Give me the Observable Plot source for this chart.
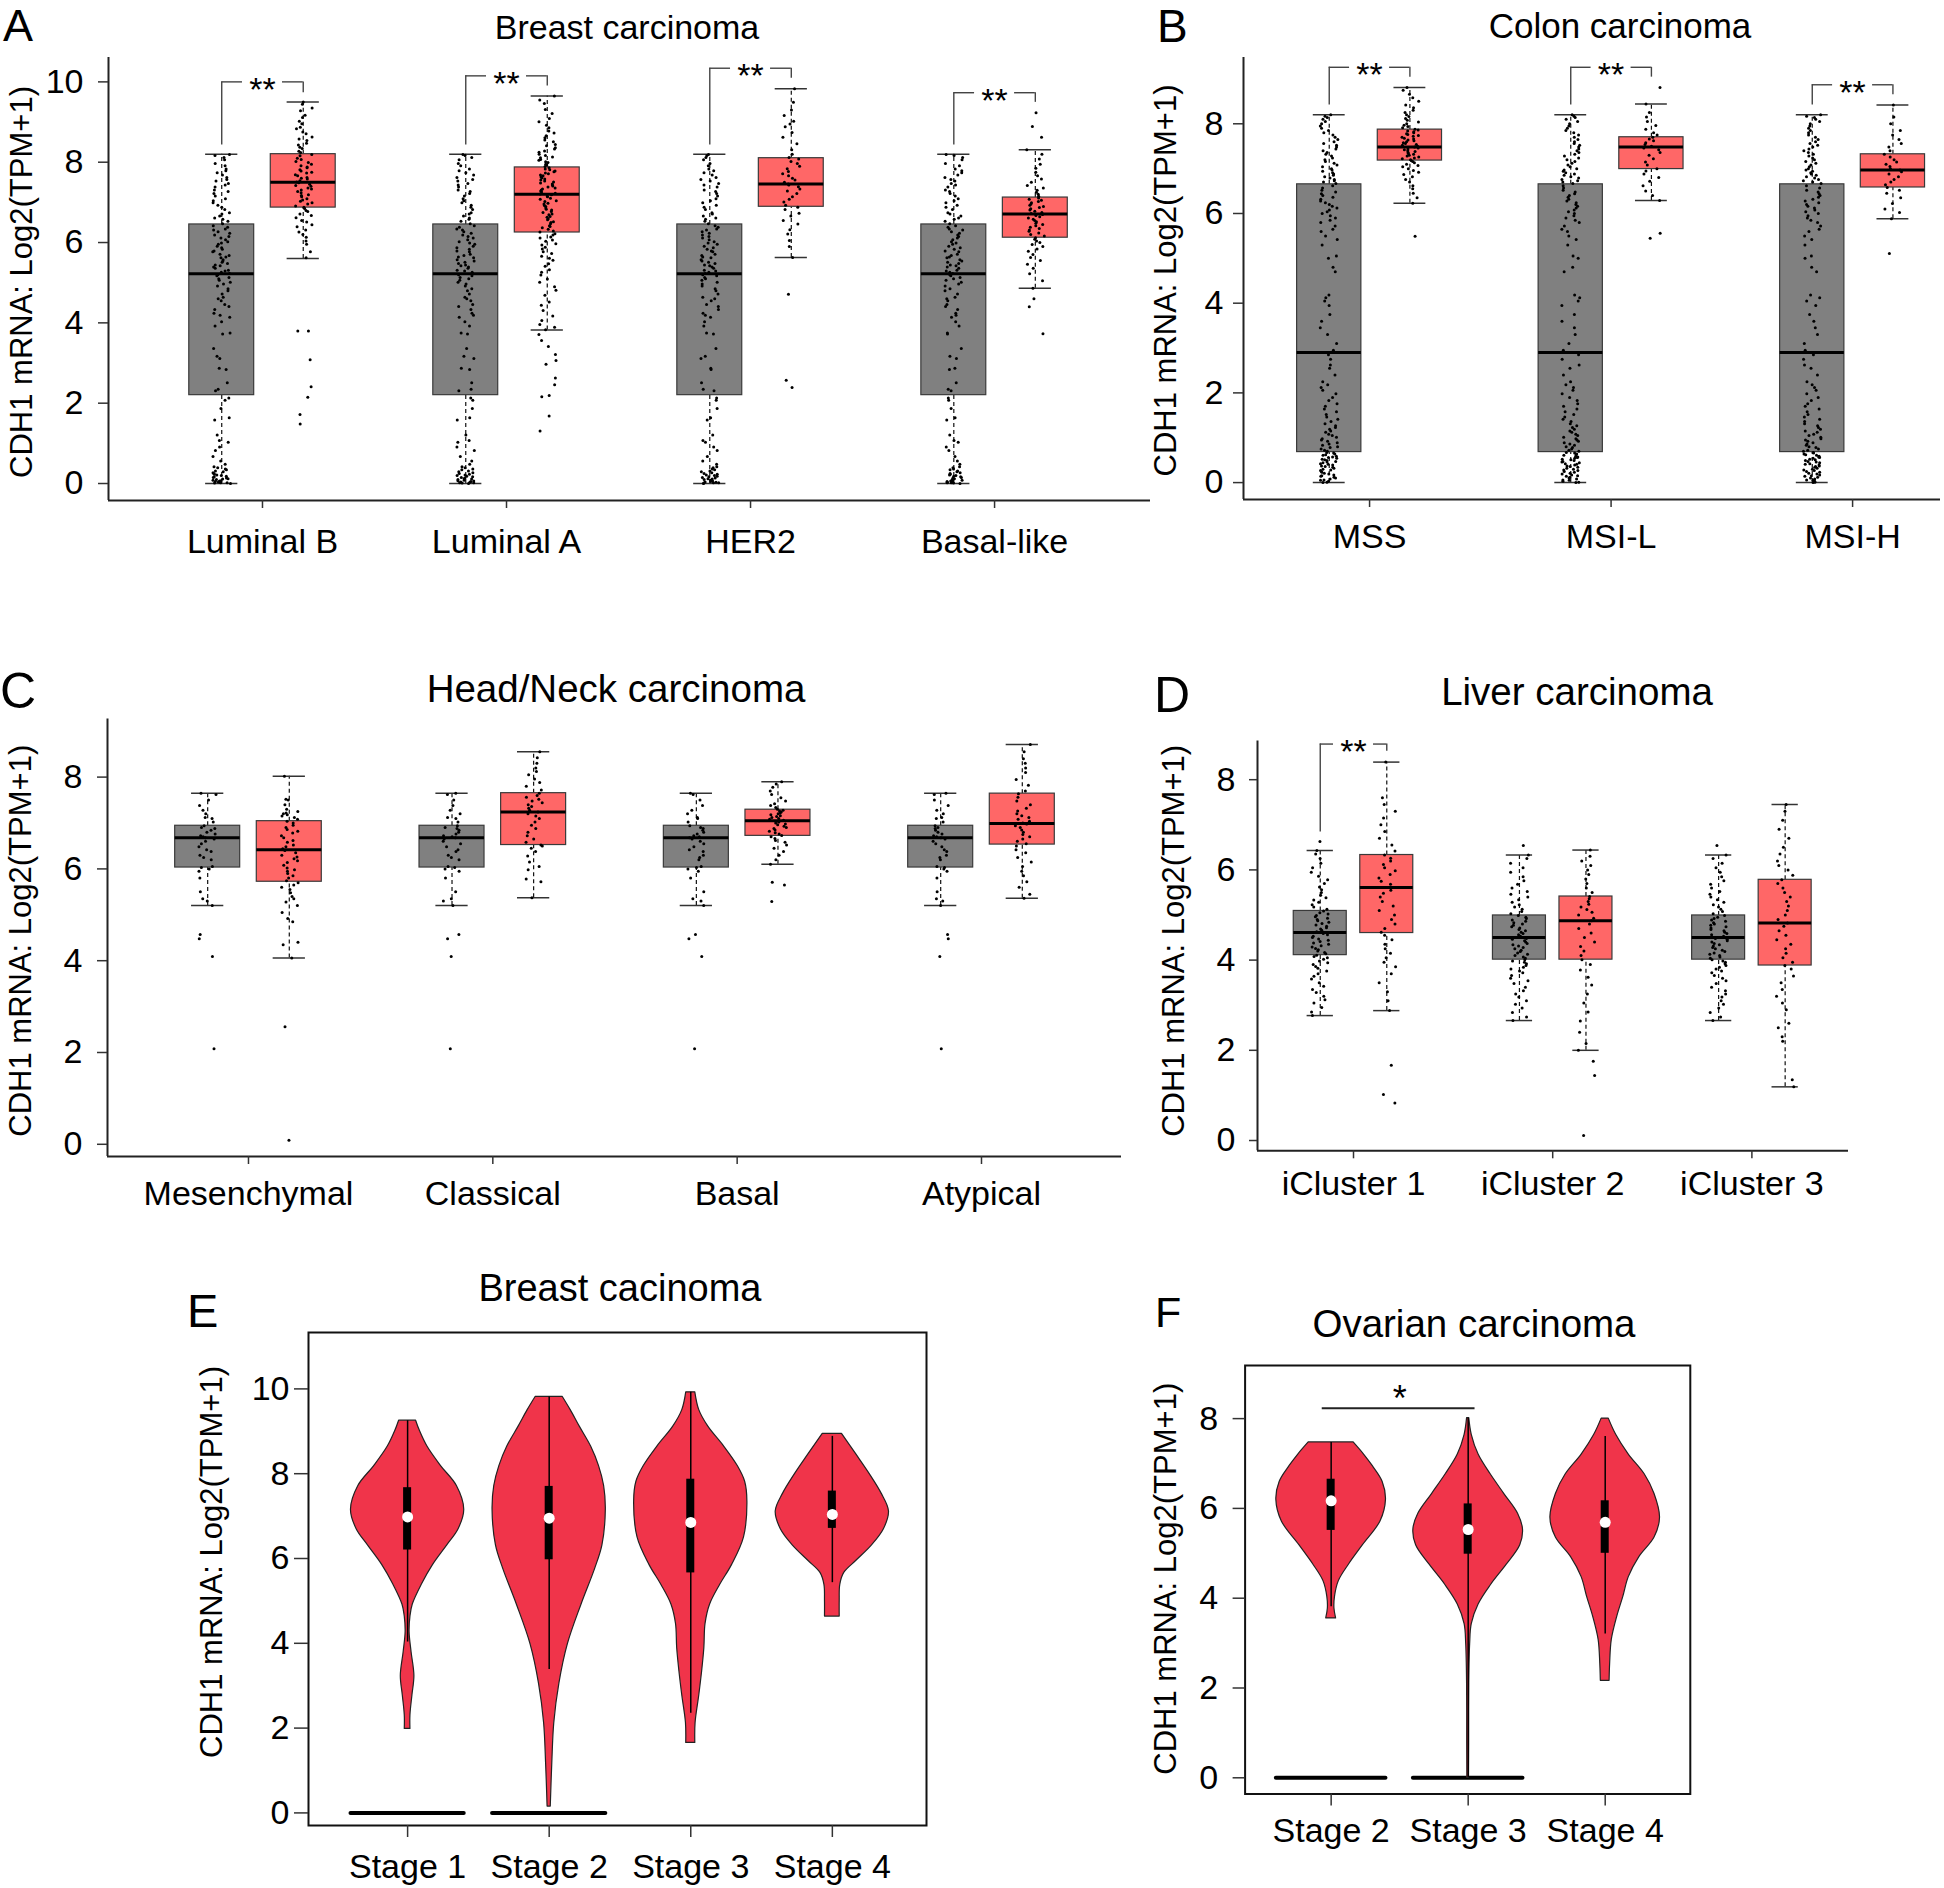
<!DOCTYPE html>
<html>
<head>
<meta charset="utf-8">
<script src="https://cdn.jsdelivr.net/npm/d3@7"></script>
<script src="https://cdn.jsdelivr.net/npm/@observablehq/plot@0.6"></script>
<style>
html,body{margin:0;padding:0;background:#fff;}
#fig{position:relative;width:1944px;height:1888px;overflow:hidden;background:#fff;}
.panel{position:absolute;}
.panel svg{max-width:none;}
#overlay{position:absolute;left:0;top:0;pointer-events:none;}
</style>
</head>
<body>
<div id="fig"></div>
<script>
const P = s => s.trim().split(/\s+/).map(Number);
const YLABEL = "CDH1 mRNA: Log2(TPM+1)";

// ================= DATA =================
// ---- Panel A: Breast carcinoma by PAM50 subtype ----
const catsA = ["Luminal B", "Luminal A", "HER2", "Basal-like"];
const normalStatsA = {q1: 2.2, med: 5.22, q3: 6.45, lo: 0, hi: 8.2};
const tumorStatsA = [
  {q1: 6.87, med: 7.5, q3: 8.2, lo: 5.6, hi: 9.5},
  {q1: 6.25, med: 7.2, q3: 7.87, lo: 3.82, hi: 9.65},
  {q1: 6.89, med: 7.46, q3: 8.1, lo: 5.63, hi: 9.83},
  {q1: 6.12, med: 6.71, q3: 7.12, lo: 4.86, hi: 8.31}
];
const bracketsA = [
  {g: 1, top: 10.0, l: 8.43, r: 9.73, label: "**"},
  {g: 2, top: 10.15, l: 8.43, r: 9.9, label: "**"},
  {g: 3, top: 10.34, l: 8.43, r: 10.09, label: "**"},
  {g: 4, top: 9.73, l: 8.43, r: 9.49, label: "**"}
];
const ptsNormalA = P(`0 0.01 0.02 0.02 0.03 0.04 0.05 0.06 0.07 0.08 0.1 0.11 0.12 0.14 0.15 0.17 0.18 0.2 0.21 0.23 0.25 0.27 0.29 0.31 0.34 0.36 0.39 0.42 0.48 0.56 0.67 0.82 0.91 1.03 1.07 1.21 1.58 1.64 1.87 2.07 2.13
2.31 2.35 2.51 2.84 2.87 3.11 3.17 3.36 3.72 3.75 3.92 4.03 4.14 4.19 4.24 4.33 4.41 4.46 4.55 4.6 4.64 4.72 4.8 4.85 4.92 4.97 5.01 5.06 5.1 5.13 5.17 5.2
5.23 5.26 5.29 5.31 5.36 5.39 5.42 5.44 5.48 5.51 5.54 5.57 5.62 5.64 5.68 5.71 5.77 5.79 5.83 5.87 5.91 5.96 5.99 6.02 6.07 6.11 6.15 6.19 6.23 6.27 6.31 6.34 6.38 6.42
6.47 6.53 6.58 6.61 6.66 6.71 6.74 6.82 6.88 6.93 6.99 7.04 7.09 7.16 7.22 7.27 7.31 7.38 7.43 7.47 7.53 7.57 7.62 7.68 7.74 7.79 7.83 7.91 7.97 8.06 8.12 8.17 8.19`);
const ptsTumorA = [
  P(`1.48 1.72 2.15 2.41 3.08 3.8 3.8 5.62 5.77 5.96 6.04 6.13 6.2 6.26 6.31 6.39 6.44 6.51 6.55 6.62 6.67 6.71 6.77 6.8 6.85
  6.88 6.91 6.96 6.99 7.03 7.06 7.09 7.14 7.17 7.19 7.24 7.27 7.31 7.33 7.36 7.4 7.42 7.45 7.49 7.51 7.54 7.58 7.6 7.62 7.66 7.69 7.73 7.75 7.78 7.81 7.86 7.88 7.91 7.95 7.99 8.02 8.07 8.1 8.16 8.19
  8.24 8.27 8.34 8.37 8.43 8.47 8.54 8.58 8.63 8.71 8.75 8.83 8.87 8.96 9.02 9.11 9.17 9.28 9.35 9.44 9.5`),
  P(`1.31 1.68 2.16 2.19 2.46 2.63 2.97 3.06 3.21 3.41 3.56 3.71 3.83 3.89 3.96 4.06 4.17 4.31 4.44 4.52 4.69 4.81 4.9 5.01 5.09 5.19 5.26 5.32 5.41 5.47 5.56 5.61 5.66 5.73 5.77 5.84 5.88 5.94 5.97 6.03 6.06 6.11 6.14 6.19 6.22
  6.26 6.29 6.33 6.37 6.4 6.42 6.47 6.5 6.52 6.57 6.59 6.63 6.65 6.69 6.71 6.75 6.77 6.81 6.83 6.86 6.9 6.92 6.96 6.98 7.02 7.04 7.08 7.1 7.14 7.16 7.19
  7.21 7.23 7.26 7.28 7.31 7.33 7.36 7.38 7.41 7.43 7.46 7.48 7.51 7.53 7.56 7.58 7.61 7.63 7.66 7.68 7.71 7.73 7.76 7.78 7.81 7.83 7.86
  7.89 7.93 7.95 7.99 8.01 8.05 8.07 8.11 8.13 8.17 8.2 8.25 8.28 8.33 8.36 8.41 8.44 8.51 8.55 8.61 8.66 8.73 8.78 8.86 8.92 9.01 9.09 9.21 9.31 9.46 9.55 9.65`),
  P(`2.39 2.57 4.71 5.63 5.9 6.05 6.21 6.32 6.46 6.55 6.66 6.73 6.82 6.88 6.93 7.01 7.08 7.14 7.22 7.28 7.33 7.39 7.43 7.46 7.5 7.56 7.6 7.66 7.71 7.77 7.84 7.9 7.97 8.02 8.08 8.12 8.2 8.31 8.46 8.62 8.74 8.88 8.95 9.02 9.16 9.3 9.49 9.83`),
  P(`3.73 4.4 4.6 4.86 5.05 5.22 5.36 5.46 5.55 5.63 5.7 5.78 5.84 5.9 5.95 6.0 6.04 6.08 6.12 6.16 6.2 6.24 6.28 6.31 6.35 6.38 6.42 6.45 6.48 6.52 6.55 6.58 6.61 6.64 6.67 6.7 6.72 6.75 6.78 6.81 6.84 6.87 6.9 6.93 6.96 6.99 7.02 7.05 7.08 7.11 7.15 7.2 7.25 7.3 7.36 7.42 7.5 7.58 7.66 7.75 7.85 7.95 8.08 8.2 8.31 8.62 8.89 9.23`)
];

// ---- Panel B: Colon carcinoma by MSI status ----
const catsB = ["MSS", "MSI-L", "MSI-H"];
const normalStatsB = {q1: 0.68, med: 2.9, q3: 6.65, lo: 0, hi: 8.2};
const tumorStatsB = [
  {q1: 7.18, med: 7.48, q3: 7.87, lo: 6.23, hi: 8.81},
  {q1: 6.99, med: 7.48, q3: 7.7, lo: 6.29, hi: 8.44},
  {q1: 6.58, med: 6.97, q3: 7.32, lo: 5.88, hi: 8.42}
];
const bracketsB = [
  {g: 1, top: 9.26, l: 8.42, r: 9.04, label: "**"},
  {g: 2, top: 9.26, l: 8.42, r: 9.04, label: "**"},
  {g: 3, top: 8.87, l: 8.42, r: 8.65, label: "**"}
];
const ptsNormalB = P(`0 0.01 0.03 0.05 0.06 0.08 0.1 0.12 0.14 0.15 0.17 0.19 0.21 0.23 0.25 0.27 0.28 0.3 0.32 0.34 0.36 0.37 0.39 0.41 0.42 0.44 0.46 0.47 0.49 0.51 0.52 0.54 0.56 0.57 0.59 0.61 0.62 0.64 0.66 0.67
0.7 0.72 0.75 0.78 0.8 0.83 0.86 0.89 0.92 0.95 0.98 1.01 1.05 1.08 1.12 1.15 1.19 1.23 1.27 1.31 1.36 1.41 1.46 1.52 1.58 1.64 1.7 1.76 1.83 1.9 1.98 2.06 2.12 2.18 2.25 2.4 2.55 2.62 2.75 2.85
2.95 3.1 3.3 3.45 3.6 3.75 3.95 4.05 4.12 4.18 4.7 4.8 5.0 5.05 5.3 5.42 5.5 5.6 5.65 5.72 5.8 5.85 5.9 5.95 6.0 6.04 6.08 6.12 6.16 6.2 6.24 6.28 6.32 6.36 6.4 6.44 6.48 6.52 6.57 6.62
6.67 6.7 6.73 6.76 6.79 6.82 6.85 6.88 6.91 6.94 6.97 7.0 7.04 7.08 7.12 7.16 7.2 7.24 7.28 7.32 7.36 7.4 7.44 7.48 7.52 7.56 7.6 7.65 7.7 7.75 7.8 7.85 7.9 7.95 8.0 8.05 8.1 8.14 8.17 8.2`);
const ptsTumorB = [
  P(`5.49 6.23 6.35 6.45 6.55 6.62 6.7 6.76 6.82 6.87 6.92 6.96 7.0 7.04 7.07 7.1 7.13 7.16 7.18 7.2 7.22 7.24 7.26 7.28 7.3 7.32 7.34 7.36 7.38 7.4 7.42 7.44 7.46 7.48 7.5 7.52 7.54 7.56 7.58 7.6 7.62 7.64 7.66 7.68 7.7 7.72 7.74 7.76 7.78 7.8 7.82 7.84 7.86 7.88 7.91 7.94 7.97 8.0 8.04 8.08 8.12 8.16 8.2 8.25 8.3 8.36 8.42 8.5 8.58 8.66 8.75 8.81`),
  P(`5.45 5.56 6.29 6.4 6.5 6.62 6.72 6.8 6.88 6.95 7.0 7.08 7.15 7.22 7.3 7.36 7.42 7.46 7.5 7.54 7.58 7.62 7.66 7.7 7.75 7.8 7.88 7.96 8.05 8.15 8.25 8.44 8.81`),
  P(`5.11 5.88 6.02 6.1 6.22 6.35 6.45 6.52 6.58 6.64 6.7 6.76 6.82 6.88 6.93 6.97 7.0 7.05 7.1 7.15 7.2 7.26 7.32 7.4 7.48 7.56 7.65 7.75 7.85 8.0 8.15 8.42`)
];

// ---- Panel C: Head/Neck carcinoma by subtype ----
const catsC = ["Mesenchymal", "Classical", "Basal", "Atypical"];
const normalStatsC = {q1: 6.03, med: 6.68, q3: 6.94, lo: 5.2, hi: 7.65};
const tumorStatsC = [
  {q1: 5.72, med: 6.42, q3: 7.04, lo: 4.06, hi: 8.02},
  {q1: 6.52, med: 7.24, q3: 7.65, lo: 5.37, hi: 8.55},
  {q1: 6.72, med: 7.05, q3: 7.29, lo: 6.1, hi: 7.9},
  {q1: 6.53, med: 6.99, q3: 7.64, lo: 5.36, hi: 8.71}
];
const ptsNormalC = P(`2.08 4.09 4.48 4.57 5.2 5.3 5.35 5.5 5.8 5.95 6.0 6.03 6.05 6.2 6.25 6.3 6.38 6.42 6.48 6.55 6.6 6.65 6.68 6.7 6.72 6.76 6.8 6.84 6.88 6.9 6.94 7.02 7.1 7.12 7.2 7.28 7.38 7.5 7.62 7.65`);
const ptsTumorC = [
  P(`0.09 2.56 4.06 4.35 4.4 4.85 4.92 5.05 5.2 5.28 5.35 5.4 5.48 5.55 5.6 5.65 5.7 5.74 5.8 5.85 5.9 5.95 5.98 6.02 6.08 6.14 6.18 6.22 6.26 6.3 6.35 6.4 6.44 6.48 6.52 6.58 6.62 6.68 6.72 6.78 6.82 6.86 6.9 6.95 7.0 7.04 7.08 7.12 7.15 7.18 7.2 7.22 7.25 7.3 7.4 7.5 7.52 8.02`),
  P(`5.37 5.72 5.78 5.98 6.05 6.15 6.28 6.38 6.45 6.5 6.52 6.58 6.65 6.72 6.8 6.88 6.95 7.02 7.1 7.15 7.2 7.24 7.28 7.32 7.36 7.4 7.44 7.48 7.52 7.56 7.6 7.65 7.72 7.8 7.88 7.96 8.05 8.12 8.2 8.3 8.42 8.55`),
  P(`5.29 5.65 5.71 6.1 6.2 6.3 6.38 6.45 6.52 6.58 6.62 6.66 6.7 6.73 6.76 6.79 6.82 6.85 6.88 6.9 6.93 6.96 6.98 7.0 7.02 7.04 7.06 7.08 7.1 7.12 7.14 7.16 7.18 7.2 7.22 7.24 7.26 7.28 7.3 7.34 7.38 7.42 7.48 7.55 7.62 7.7 7.78 7.85 7.9`),
  P(`5.36 5.45 5.6 5.72 5.85 5.95 6.05 6.15 6.25 6.35 6.42 6.5 6.55 6.6 6.65 6.7 6.75 6.8 6.85 6.9 6.94 6.98 7.0 7.04 7.08 7.12 7.16 7.2 7.26 7.32 7.4 7.48 7.56 7.64 7.7 7.82 7.95 8.1 8.2 8.3 8.4 8.55 8.71`)
];

// ---- Panel D: Liver carcinoma by iCluster ----
const catsD = ["iCluster 1", "iCluster 2", "iCluster 3"];
const normalStatsD = [
  {q1: 4.11, med: 4.61, q3: 5.09, lo: 2.77, hi: 6.43},
  {q1: 4.01, med: 4.5, q3: 4.99, lo: 2.66, hi: 6.33},
  {q1: 4.01, med: 4.5, q3: 4.99, lo: 2.66, hi: 6.33}
];
const tumorStatsD = [
  {q1: 4.6, med: 5.61, q3: 6.33, lo: 2.88, hi: 8.39},
  {q1: 4.01, med: 4.87, q3: 5.41, lo: 2.0, hi: 6.44},
  {q1: 3.88, med: 4.82, q3: 5.78, lo: 1.19, hi: 7.45}
];
const bracketsD = [{g: 1, top: 8.79, l: 6.84, r: 8.63, label: "**"}];
const ptsNormalD1 = P(`2.77 2.85 2.95 3.05 3.12 3.2 3.28 3.35 3.42 3.5 3.58 3.64 3.7 3.76 3.82 3.86 3.9 3.94 3.98 4.02 4.05 4.08 4.11 4.14 4.17 4.2 4.23 4.26 4.29 4.32 4.35 4.38 4.41 4.44 4.47 4.5 4.53 4.56 4.59 4.61 4.63 4.66 4.69 4.72 4.75 4.78 4.81 4.84 4.87 4.9 4.93 4.96 4.99 5.02 5.05 5.09 5.13 5.18 5.23 5.28 5.33 5.38 5.44 5.5 5.56 5.62 5.7 5.78 5.86 5.95 6.05 6.15 6.25 6.35 6.43 6.63`);
const ptsNormalD23 = P(`2.66 2.74 2.84 2.94 3.02 3.1 3.18 3.25 3.32 3.4 3.48 3.54 3.6 3.66 3.72 3.76 3.8 3.84 3.88 3.92 3.95 3.98 4.01 4.04 4.07 4.1 4.13 4.16 4.19 4.22 4.25 4.28 4.31 4.34 4.37 4.4 4.43 4.46 4.48 4.5 4.53 4.56 4.59 4.62 4.65 4.68 4.71 4.74 4.77 4.8 4.83 4.86 4.89 4.92 4.95 4.99 5.03 5.08 5.13 5.18 5.23 5.28 5.34 5.4 5.46 5.52 5.6 5.68 5.76 5.85 5.95 6.05 6.15 6.25 6.33 6.54`);
const ptsTumorD = [
  P(`0.83 1.02 1.67 2.88 3.1 3.3 3.5 3.7 3.85 3.95 4.05 4.15 4.25 4.35 4.45 4.55 4.62 4.7 4.8 4.9 5.0 5.1 5.2 5.3 5.4 5.48 5.55 5.61 5.68 5.75 5.82 5.9 5.98 6.05 6.12 6.2 6.26 6.33 6.42 6.55 6.7 6.85 7.0 7.15 7.3 7.45 7.6 8.39`),
  P(`0.11 1.44 1.76 2.0 2.15 2.4 2.65 2.85 3.05 3.25 3.45 3.62 3.78 3.9 4.01 4.1 4.2 4.3 4.4 4.5 4.6 4.7 4.8 4.87 4.93 5.0 5.06 5.12 5.18 5.24 5.3 5.36 5.41 5.5 5.6 5.7 5.8 5.9 6.0 6.1 6.2 6.3 6.44`),
  P(`1.19 1.35 2.2 2.3 2.5 2.6 2.9 3.05 3.2 3.35 3.5 3.65 3.8 3.88 3.95 4.05 4.15 4.25 4.35 4.45 4.55 4.65 4.75 4.82 4.9 5.0 5.1 5.2 5.3 5.4 5.5 5.6 5.7 5.78 5.88 6.0 6.1 6.2 6.35 6.5 6.7 6.9 7.1 7.3 7.45`)
];

// ---- Panel E: Breast carcinoma by stage (violins) ----
const stagesE = ["Stage 1", "Stage 2", "Stage 3", "Stage 4"];
// density profiles: [value, relative half-width]
const profilesE = [
  [[1.98,.05],[2.3,.05],[2.77,.085],[3.23,.12],[3.79,.07],[4.26,.035],[4.63,.05],[4.91,.09],[5.38,.25],[5.85,.45],[6.31,.7],[6.69,.9],[7.15,1],[7.71,.87],[8.18,.59],[8.64,.35],[9.0,.22],[9.25,.15]],
  [[0.15,.028],[1.18,.055],[2.12,.09],[3.05,.18],[3.98,.33],[4.91,.57],[5.75,.81],[6.31,.94],[7.15,1],[7.71,.97],[8.18,.88],[8.64,.74],[9.11,.54],[9.5,.38],[9.81,.24]],
  [[1.65,.08],[2.12,.085],[2.77,.15],[3.33,.2],[3.89,.24],[4.45,.26],[4.91,.34],[5.38,.52],[5.85,.73],[6.5,.94],[7.34,1],[7.81,.96],[8.18,.83],[8.64,.59],[9.11,.31],[9.5,.15],[9.92,.08]],
  [[4.63,.13],[5.0,.13],[5.38,.14],[5.66,.21],[5.94,.42],[6.31,.7],[6.69,.91],[7.11,1],[7.53,.87],[7.99,.66],[8.46,.42],[8.94,.17]]
];
const statsE = [
  {q1: 6.2, med: 6.98, q3: 7.67, lo: 4.03, hi: 9.25},
  {q1: 5.97, med: 6.95, q3: 7.7, lo: 3.38, hi: 9.81},
  {q1: 5.66, med: 6.85, q3: 7.87, lo: 2.35, hi: 9.92},
  {q1: 6.71, med: 7.04, q3: 7.59, lo: 5.43, hi: 8.88}
];
const zeroStagesE = ["Stage 1", "Stage 2"];

// ---- Panel F: Ovarian carcinoma by stage (violins) ----
const stagesF = ["Stage 2", "Stage 3", "Stage 4"];
const profilesF = [
  [[3.55,.09],[3.77,.06],[4.03,.07],[4.38,.14],[4.74,.32],[5.18,.58],[5.71,.9],[6.19,1],[6.59,.94],[6.94,.76],[7.2,.6],[7.47,.41]],
  [[0,.015],[0.78,.018],[2.1,.02],[2.98,.036],[3.42,.065],[3.86,.19],[4.3,.42],[4.74,.7],[5.18,.95],[5.53,1],[5.88,.91],[6.32,.66],[6.76,.41],[7.2,.19],[7.64,.065],[8.01,.02]],
  [[2.16,.08],[2.54,.09],[3.07,.12],[3.59,.22],[4.03,.33],[4.47,.43],[4.91,.62],[5.35,.9],[5.79,1],[6.32,.9],[6.76,.72],[7.2,.43],[7.64,.2],[8.0,.065]]
];
const statsF = [
  {q1: 5.51, med: 6.17, q3: 6.65, lo: 3.81, hi: 7.47},
  {q1: 4.98, med: 5.53, q3: 6.1, lo: 0, hi: 8.01},
  {q1: 5.0, med: 5.69, q3: 6.17, lo: 3.2, hi: 7.6}
];
const zeroStagesF = ["Stage 2", "Stage 3"];
const sigF = [{a: "Stage 2", b: "Stage 3", y: 8.23, label: "*"}];

// ================= DRAWING =================
const FONT = '"Liberation Sans", Arial, Helvetica, sans-serif';
const GRAY = "#808080", RED = "#ff6767", VIOLIN = "#f0344a";
const fig = document.getElementById("fig");

function hash(n) { const s = Math.sin(n * 12.9898 + 78.233) * 43758.5453; return s - Math.floor(s) - 0.5; }

function place(svg, left, top) {
  const d = document.createElement("div");
  d.className = "panel";
  d.style.left = left + "px"; d.style.top = top + "px";
  d.appendChild(svg);
  fig.appendChild(d);
}

function boxPanel(o) {
  const OFF = 0.167, HW = 0.133, CAP = 0.066;
  const ppu = (o.width - o.mL - o.mR) / (o.xDomain[1] - o.xDomain[0]);
  const jit = 18 / ppu, gap = 20 / ppu;
  const normals = [], tumors = [], pts = [];
  o.cats.forEach((c, i) => {
    const g = i + 1;
    normals.push({...o.normal[i], c: g - OFF});
    tumors.push({...o.tumor[i], c: g + OFF});
    o.normalPts[i].forEach((v, k) => pts.push({x: g - OFF + jit * hash(k + 1000 * g + o.seed), y: v}));
    o.tumorPts[i].forEach((v, k) => pts.push({x: g + OFF + jit * hash(k + 1000 * g + 500 + o.seed), y: v}));
  });
  const boxes = normals.concat(tumors);
  const br = o.brackets || [];
  const lineStyle = {stroke: "#444", strokeWidth: 1.4};
  return Plot.plot({
    width: o.width, height: o.height,
    marginLeft: o.mL, marginRight: o.mR, marginTop: o.mT, marginBottom: o.mB,
    x: {domain: o.xDomain}, y: {domain: o.yDomain},
    style: {fontFamily: FONT, fontSize: o.tickFont + "px", color: "#000", background: "transparent", overflow: "visible"},
    marks: [
      Plot.ruleX(boxes, {x: "c", y1: "lo", y2: "q1", stroke: "#111", strokeWidth: 1.2, strokeDasharray: "4,3"}),
      Plot.ruleX(boxes, {x: "c", y1: "q3", y2: "hi", stroke: "#111", strokeWidth: 1.2, strokeDasharray: "4,3"}),
      Plot.ruleY(boxes, {y: "lo", x1: d => d.c - CAP, x2: d => d.c + CAP, stroke: "#333", strokeWidth: 1.5}),
      Plot.ruleY(boxes, {y: "hi", x1: d => d.c - CAP, x2: d => d.c + CAP, stroke: "#333", strokeWidth: 1.5}),
      Plot.rect(normals, {x1: d => d.c - HW, x2: d => d.c + HW, y1: "q1", y2: "q3", fill: GRAY, stroke: "#3a3a3a", strokeWidth: 1.2}),
      Plot.rect(tumors, {x1: d => d.c - HW, x2: d => d.c + HW, y1: "q1", y2: "q3", fill: RED, stroke: "#3a3a3a", strokeWidth: 1.2}),
      Plot.ruleY(boxes, {y: "med", x1: d => d.c - HW, x2: d => d.c + HW, stroke: "#000", strokeWidth: 3}),
      Plot.dot(pts, {x: "x", y: "y", r: 1.5, fill: "#000", stroke: null}),
      Plot.ruleX(br, {x: d => d.g - OFF, y1: "l", y2: "top", ...lineStyle}),
      Plot.ruleX(br, {x: d => d.g + OFF, y1: "r", y2: "top", ...lineStyle}),
      Plot.ruleY(br, {y: "top", x1: d => d.g - OFF, x2: d => d.g - gap, ...lineStyle}),
      Plot.ruleY(br, {y: "top", x1: d => d.g + gap, x2: d => d.g + OFF, ...lineStyle}),
      Plot.text(br, {x: "g", y: "top", text: "label", fontSize: 34, lineAnchor: "bottom", dy: 19}),
      Plot.ruleX([o.xDomain[0]], {stroke: "#222", strokeWidth: 2}),
      Plot.ruleY([o.yDomain[0]], {stroke: "#222", strokeWidth: 2, x1: o.xDomain[0], x2: o.xDomain[1]}),
      Plot.axisY({ticks: o.yTicks, tickSize: o.yTS, tickPadding: o.yTP, label: null, tickFormat: d => String(d), strokeWidth: 1.5, stroke: "#333"}),
      Plot.axisX({ticks: o.cats.map((c, i) => i + 1), tickFormat: t => o.cats[t - 1], tickSize: 8, tickPadding: o.xTP, label: null, strokeWidth: 1.5, stroke: "#333"}),
      Plot.text([YLABEL], {text: d => d, frameAnchor: "left", rotate: -90, dx: o.labDx, dy: o.labDy, fontSize: 31, textAnchor: "middle"})
    ]
  });
}

function violinPanel(o) {
  const rows = [];
  o.profiles.forEach((prof, i) => prof.forEach(([v, w]) => rows.push({s: i + 1, v, w})));
  const stats = o.stats.map((s, i) => ({...s, s: i + 1}));
  const zeros = o.zeros.map(name => ({s: o.stages.indexOf(name) + 1}));
  const BW = 4 / ((o.width - o.mL - o.mR) / (o.xDomain[1] - o.xDomain[0]));
  const sig = (o.sig || []).map(d => ({a: o.stages.indexOf(d.a) + 1, b: o.stages.indexOf(d.b) + 1, y: d.y, label: d.label}));
  return Plot.plot({
    width: o.width, height: o.height,
    marginLeft: o.mL, marginRight: o.mR, marginTop: o.mT, marginBottom: o.mB,
    x: {domain: o.xDomain}, y: {domain: o.yDomain},
    style: {fontFamily: FONT, fontSize: o.tickFont + "px", color: "#000", background: "transparent", overflow: "visible"},
    marks: [
      Plot.ruleY(zeros, {y: () => 0, x1: d => d.s - 0.4, x2: d => d.s + 0.4, stroke: "#000", strokeWidth: 4, strokeLinecap: "round"}),
      Plot.areaX(rows, {y: "v", x1: d => d.s - 0.4 * d.w, x2: d => d.s + 0.4 * d.w, z: "s", fill: VIOLIN, stroke: "#222", strokeWidth: 1.2, curve: "catmull-rom"}),
      Plot.ruleX(stats, {x: "s", y1: "lo", y2: "hi", stroke: "#000", strokeWidth: 1.5}),
      Plot.rect(stats, {x1: d => d.s - BW, x2: d => d.s + BW, y1: "q1", y2: "q3", fill: "#000"}),
      Plot.dot(stats, {x: "s", y: "med", r: 5.5, fill: "#fff", stroke: null}),
      Plot.ruleY(sig, {y: "y", x1: d => d.a - 0.065, x2: d => d.b + 0.05, stroke: "#222", strokeWidth: 2}),
      Plot.text(sig, {x: d => (d.a + d.b) / 2, y: "y", text: "label", fontSize: 36, lineAnchor: "bottom", dy: 3}),
      Plot.frame({stroke: "#111", strokeWidth: 2}),
      Plot.axisY({ticks: o.yTicks, tickSize: o.yTS, tickPadding: o.yTP, label: null, tickFormat: d => String(d), strokeWidth: 1.5, stroke: "#333"}),
      Plot.axisX({ticks: o.stages.map((c, i) => i + 1), tickFormat: t => o.stages[t - 1], tickSize: 12, tickPadding: o.xTP, label: null, strokeWidth: 1.5, stroke: "#333"}),
      Plot.text([YLABEL], {text: d => d, frameAnchor: "left", rotate: -90, dx: o.labDx, dy: o.labDy, fontSize: 31, textAnchor: "middle"})
    ]
  });
}

// Panel A
place(boxPanel({
  cats: catsA, normal: catsA.map(() => normalStatsA), tumor: tumorStatsA,
  normalPts: catsA.map(() => ptsNormalA), tumorPts: ptsTumorA, brackets: bracketsA, seed: 1,
  width: 1155, height: 560, mL: 108, mR: 5, mT: 57, mB: 60,
  xDomain: [0.369, 4.639], yDomain: [-0.423, 10.607], yTicks: [0, 2, 4, 6, 8, 10],
  yTS: 10, yTP: 15, xTP: 20, tickFont: 34, labDx: -86, labDy: 3
}), 0, 0);

// Panel B
place(boxPanel({
  cats: catsB, normal: catsB.map(() => normalStatsB), tumor: tumorStatsB,
  normalPts: catsB.map(() => ptsNormalB), tumorPts: ptsTumorB, brackets: bracketsB, seed: 7,
  width: 834, height: 560, mL: 133, mR: 4, mT: 57, mB: 61,
  xDomain: [0.478, 3.364], yDomain: [-0.377, 9.478], yTicks: [0, 2, 4, 6, 8],
  yTS: 10, yTP: 10, xTP: 16, tickFont: 34, labDx: -77, labDy: 2
}), 1110, 0);

// Panel C
place(boxPanel({
  cats: catsC, normal: catsC.map(() => normalStatsC), tumor: tumorStatsC,
  normalPts: catsC.map(() => ptsNormalC), tumorPts: ptsTumorC, brackets: [], seed: 13,
  width: 1121, height: 580, mL: 107, mR: 0, mT: 78.5, mB: 64,
  xDomain: [0.423, 4.573], yDomain: [-0.266, 9.266], yTicks: [0, 2, 4, 6, 8],
  yTS: 10, yTP: 15, xTP: 16, tickFont: 34, labDx: -86, labDy: 3
}), 0, 640);

// Panel D
place(boxPanel({
  cats: catsD, normal: normalStatsD, tumor: tumorStatsD,
  normalPts: [ptsNormalD1, ptsNormalD23, ptsNormalD23], tumorPts: ptsTumorD, brackets: bracketsD, seed: 21,
  width: 834, height: 580, mL: 147, mR: 96, mT: 100.4, mB: 69.7,
  xDomain: [0.518, 3.485], yDomain: [-0.228, 8.86], yTicks: [0, 2, 4, 6, 8],
  yTS: 8, yTP: 14, xTP: 12, tickFont: 34, labDx: -83, labDy: -5
}), 1110, 640);

// Panel E
place(violinPanel({
  stages: stagesE, profiles: profilesE, stats: statsE, zeros: zeroStagesE,
  width: 800, height: 618, mL: 148, mR: 34, mT: 62, mB: 63,
  xDomain: [0.30, 4.665], yDomain: [-0.297, 11.33], yTicks: [0, 2, 4, 6, 8, 10],
  yTS: 14, yTP: 5, xTP: 16, tickFont: 34, labDx: -96, labDy: -17
}), 160, 1270);

// Panel F
place(violinPanel({
  stages: stagesF, profiles: profilesF, stats: statsF, zeros: zeroStagesF, sig: sigF,
  width: 834, height: 618, mL: 134.6, mR: 254.2, mT: 95, mB: 94.5,
  xDomain: [0.372, 3.621], yDomain: [-0.361, 9.183], yTicks: [0, 2, 4, 6, 8],
  yTS: 12, yTP: 15, xTP: 12, tickFont: 34, labDx: -79, labDy: -1
}), 1110, 1270);

// Titles and panel letters (layout)
const titles = [
  {t: "Breast carcinoma", x: 627, y: 39, fs: 34},
  {t: "Colon carcinoma", x: 1620, y: 38, fs: 35},
  {t: "Head/Neck carcinoma", x: 616, y: 702, fs: 38.5},
  {t: "Liver carcinoma", x: 1577, y: 705, fs: 38.5},
  {t: "Breast cacinoma", x: 620, y: 1301, fs: 38},
  {t: "Ovarian carcinoma", x: 1474, y: 1337, fs: 38.5}
];
const letters = [
  {t: "A", x: 3, y: 41, fs: 45},
  {t: "B", x: 1157, y: 42, fs: 46},
  {t: "C", x: 0, y: 708, fs: 50},
  {t: "D", x: 1154, y: 712, fs: 50},
  {t: "E", x: 187, y: 1327, fs: 47},
  {t: "F", x: 1155, y: 1327, fs: 43}
];
const ov = d3.create("svg").attr("id", "overlay").attr("width", 1944).attr("height", 1888)
  .style("font-family", FONT);
ov.selectAll("text.title").data(titles).join("text").attr("class", "title")
  .attr("x", d => d.x).attr("y", d => d.y).attr("text-anchor", "middle")
  .attr("font-size", d => d.fs).attr("fill", "#000").text(d => d.t);
ov.selectAll("text.letter").data(letters).join("text").attr("class", "letter")
  .attr("x", d => d.x).attr("y", d => d.y).attr("text-anchor", "start")
  .attr("font-size", d => d.fs).attr("fill", "#000").text(d => d.t);
fig.appendChild(ov.node());
</script>
</body>
</html>
